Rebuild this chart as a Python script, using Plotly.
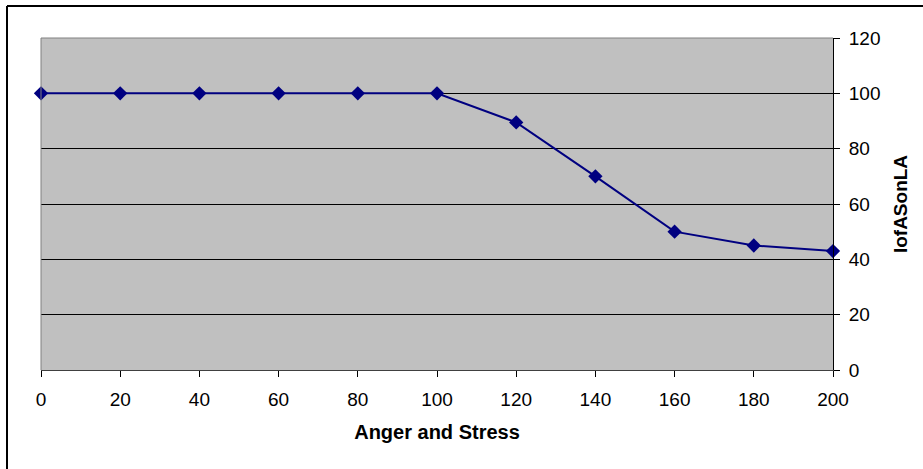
import plotly.graph_objects as go

anger_stress = [0, 20, 40, 60, 80, 100, 120, 140, 160, 180, 200]
iofasonla = [100, 100, 100, 100, 100, 100, 89.5, 70, 50, 45, 43]
x_ticks = [0, 20, 40, 60, 80, 100, 120, 140, 160, 180, 200]
y_ticks = [0, 20, 40, 60, 80, 100, 120]

W, H = 923, 469
L, R, T, B = 41, 833, 38, 370

fig = go.Figure()
fig.add_trace(go.Scatter(
    x=anger_stress, y=iofasonla, mode="lines+markers",
    line=dict(color="#000080", width=2),
    marker=dict(symbol="diamond", size=11, color="#000080"),
    showlegend=False, cliponaxis=False,
))

font = dict(family="Arial, Liberation Sans, sans-serif", size=19, color="black")
fig.update_layout(
    width=W, height=H,
    margin=dict(l=L, r=W - R, t=T, b=H - B),
    paper_bgcolor="white", plot_bgcolor="#C0C0C0",
    font=font,
    xaxis=dict(
        range=[0, 200], tickvals=x_ticks, ticktext=[str(v) for v in x_ticks],
        showgrid=False, zeroline=False, showline=True, linecolor="#404040", linewidth=1,
        ticks="outside", ticklen=6, tickcolor="black", tickwidth=1,
        ticklabelstandoff=6,
        title=dict(text="<b>Anger and Stress</b>", font=dict(size=20), standoff=16),
    ),
    yaxis=dict(
        range=[0, 120], tickvals=y_ticks, ticktext=[str(v) for v in y_ticks], side="right",
        showgrid=True, gridcolor="black", gridwidth=1, zeroline=False,
        showline=True, linecolor="black", linewidth=1,
        ticks="outside", ticklen=6, tickcolor="black", tickwidth=1,
        ticklabelstandoff=5,
        title=dict(text="<b>IofASonLA</b>", font=dict(size=19), standoff=14),
    ),
    shapes=[
        dict(type="line", xref="paper", yref="paper", x0=0, x1=1, y0=1, y1=1,
             line=dict(color="#808080", width=1)),
        dict(type="line", xref="paper", yref="paper", x0=0, x1=0, y0=0, y1=1,
             line=dict(color="#808080", width=1)),
        dict(type="line", xref="paper", yref="paper",
             x0=(7 - L) / (R - L), x1=(W + 5 - L) / (R - L),
             y0=(B - 6) / (B - T), y1=(B - 6) / (B - T),
             line=dict(color="black", width=2)),
        dict(type="line", xref="paper", yref="paper",
             x0=(7 - L) / (R - L), x1=(7 - L) / (R - L),
             y0=(B - 6) / (B - T), y1=(B - H - 5) / (B - T),
             line=dict(color="black", width=2)),
    ],
)

fig.write_html("out.html")
